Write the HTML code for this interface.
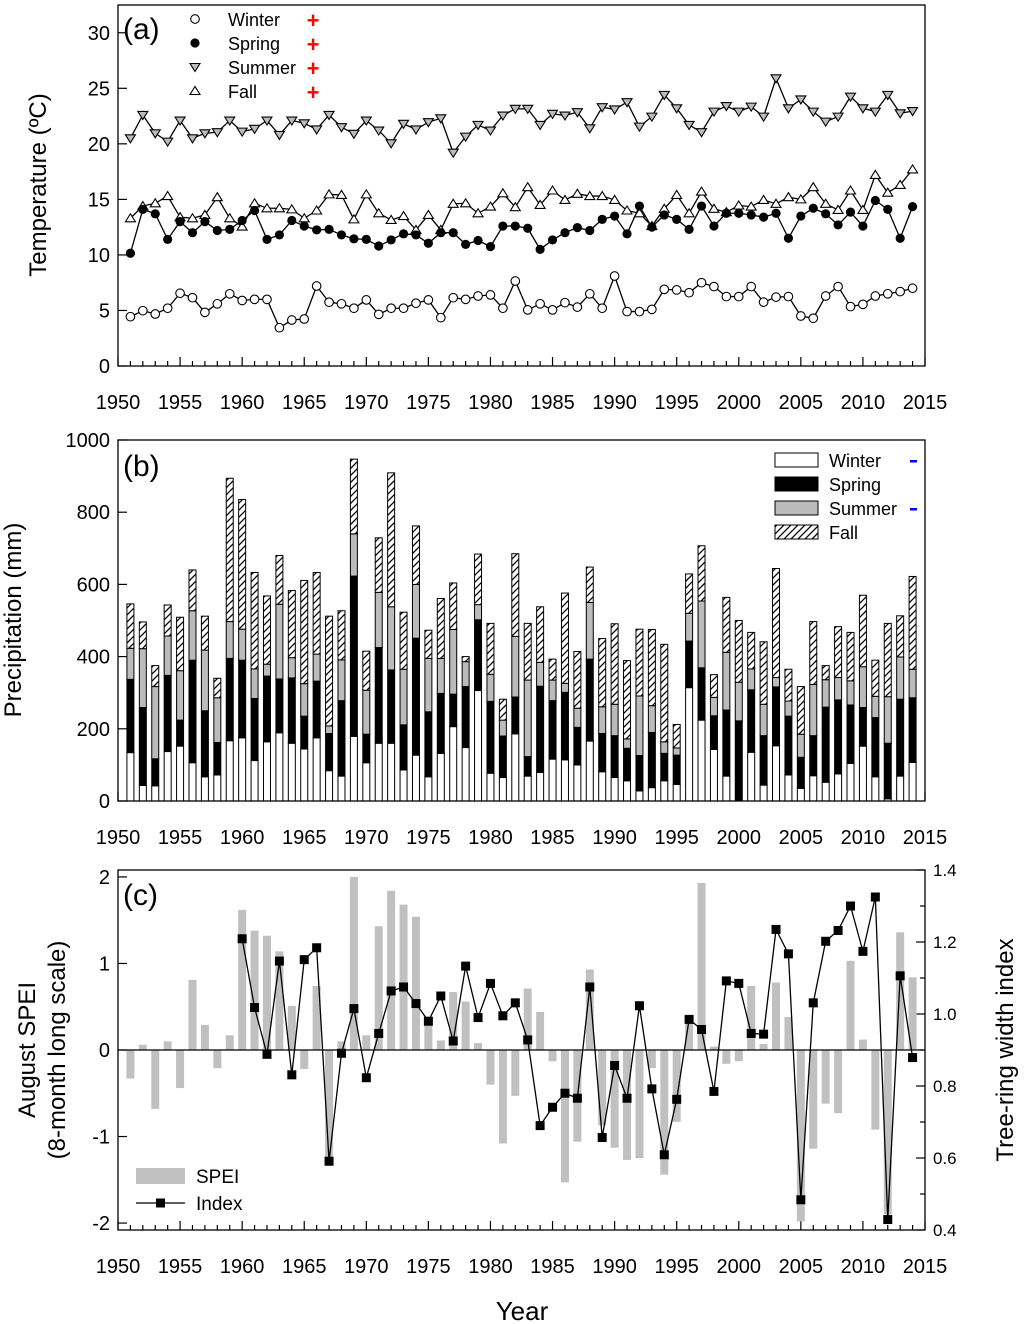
<!DOCTYPE html>
<html><head><meta charset="utf-8">
<style>
html,body{margin:0;padding:0;background:#fff;}
svg{display:block;font-family:"Liberation Sans",Arial,sans-serif;}
</style></head>
<body>
<svg id="chart" width="1024" height="1324" viewBox="0 0 1024 1324" xmlns="http://www.w3.org/2000/svg">
<defs>
<pattern id="hatch" patternUnits="userSpaceOnUse" width="7" height="7">
<rect width="7" height="7" fill="#fff"/>
<path d="M-1,8 L8,-1 M-4,4 L4,-4 M3,11 L11,3" stroke="#000" stroke-width="1.3"/>
</pattern>
</defs>
</svg>
<script>
const years = [];
for (let y = 1951; y <= 2014; y++) years.push(y);
const xTickLabels = ['1950','1955','1960','1965','1970','1975','1980','1985','1990','1995','2000','2005','2010','2015'];
const tempTickLabels = ['0','5','10','15','20','25','30'];
const precTickLabels = ['0','200','400','600','800','1000'];
const speiTickLabels = ['-2','-1','0','1','2'];
const idxTickLabels = ['0.4','0.6','0.8','1.0','1.2','1.4'];

const tempWinter = [4.44,4.98,4.68,5.2,6.55,6.15,4.83,5.6,6.5,5.9,6.0,6.0,3.45,4.14,4.23,7.2,5.74,5.6,5.2,5.95,4.65,5.2,5.2,5.65,5.95,4.35,6.15,6.0,6.3,6.4,5.2,7.65,5.05,5.6,5.05,5.7,5.3,6.5,5.2,8.1,4.9,4.9,5.1,6.9,6.85,6.6,7.5,7.15,6.25,6.25,7.15,5.75,6.2,6.25,4.5,4.3,6.3,7.15,5.35,5.55,6.3,6.5,6.7,7.0];
const tempSpring = [10.15,14.1,13.7,11.4,13.0,12.0,13.0,12.2,12.3,13.1,14.0,11.4,11.8,13.1,12.6,12.25,12.3,11.8,11.45,11.4,10.8,11.35,11.9,11.8,11.05,12.0,12.0,10.95,11.3,10.75,12.6,12.6,12.4,10.5,11.35,12.0,12.46,12.2,13.2,13.5,11.9,14.4,12.5,13.6,13.2,12.3,14.4,12.6,13.75,13.75,13.6,13.4,13.75,11.5,13.5,14.2,13.7,12.7,13.85,12.6,14.9,14.1,11.5,14.35];
const tempSummer = [20.5,22.6,20.95,20.2,22.1,20.5,20.95,21.05,22.1,21.1,21.35,22.1,20.8,22.1,21.85,21.3,22.6,21.5,20.9,22.1,21.2,20.05,21.8,21.3,21.95,22.3,19.2,20.65,21.7,21.2,22.55,23.15,23.15,21.7,22.7,22.55,22.85,21.4,23.3,23.1,23.75,21.55,22.45,24.4,23.2,21.7,21.05,22.9,23.4,22.9,23.35,22.45,25.9,23.2,24.0,22.9,22.0,22.45,24.25,23.2,22.9,24.4,22.75,22.95];
const tempFall = [13.3,14.4,14.65,15.3,13.4,13.3,13.6,15.2,13.3,12.55,14.65,14.2,14.2,14.1,13.3,14.0,15.45,15.4,13.2,15.45,13.75,13.15,13.5,12.25,13.6,12.25,14.6,14.65,13.75,14.35,15.55,14.3,16.1,14.5,15.8,14.95,15.5,15.3,15.3,14.95,14.0,13.75,12.6,14.15,15.4,13.75,15.7,14.15,13.85,14.45,14.35,14.95,14.6,15.2,15.0,16.1,14.6,14.05,15.8,14.05,17.2,15.6,16.3,17.7];

const precWinter = [134,43,42,137,152,106,67,72,167,175,112,164,189,160,144,175,84,69,179,106,160,160,86,127,67,132,206,148,306,77,65,186,69,79,116,114,100,166,81,65,56,28,37,56,46,314,224,143,69,0,135,44,153,72,35,70,52,75,104,152,67,6,69,107];
const precSpring = [203,216,75,211,72,284,183,90,228,215,172,182,149,181,91,157,103,209,444,79,265,203,125,324,180,166,90,169,196,199,115,102,54,239,162,187,104,227,106,116,90,98,153,76,81,129,145,93,183,222,173,137,163,163,86,111,208,205,162,107,164,154,213,179];
const precSummer = [86,163,200,109,137,137,168,124,102,86,82,33,207,56,90,75,21,113,117,122,153,175,154,149,148,97,179,69,42,75,44,168,212,66,57,25,53,157,74,87,26,165,74,32,20,77,185,51,160,107,58,87,26,42,64,142,76,62,67,113,59,129,117,79];
const precFall = [123,74,58,86,148,113,94,54,397,359,267,189,135,186,286,226,304,136,207,108,151,371,158,162,78,166,129,14,140,141,58,229,157,154,58,250,157,98,189,223,217,185,211,270,65,109,153,63,152,171,101,173,302,88,132,174,39,141,134,198,100,203,114,257];

const speiValues = [-0.33,0.06,-0.68,0.10,-0.44,0.81,0.29,-0.21,0.17,1.62,1.38,1.32,1.14,0.51,-0.22,0.74,-1.25,0.10,2.0,0.17,1.43,1.84,1.68,1.54,0.33,0.11,0.67,0.56,0.08,-0.40,-1.08,-0.53,0.71,0.44,-0.13,-1.53,-1.06,0.93,-0.87,-1.13,-1.27,-1.25,-0.21,-1.44,-0.83,0.33,1.93,0.04,-0.16,-0.13,0.74,0.07,0.78,0.38,-1.98,-1.14,-0.62,-0.73,1.03,0.12,-0.92,-1.9,1.36,0.84];
const indexYears = [];
for (let y = 1960; y <= 2014; y++) indexYears.push(y);
const indexValues = [1.209,1.018,0.888,1.147,0.831,1.151,1.184,0.591,0.891,1.015,0.823,0.946,1.064,1.075,1.029,0.980,1.050,0.925,1.133,0.990,1.085,0.995,1.031,0.928,0.690,0.741,0.780,0.766,1.075,0.657,0.857,0.766,1.023,0.792,0.609,0.763,0.985,0.957,0.785,1.092,1.085,0.946,0.944,1.235,1.167,0.484,1.031,1.202,1.232,1.300,1.174,1.325,0.429,1.106,0.879];

const NS = 'http://www.w3.org/2000/svg';
const svg = document.getElementById('chart');
function el(tag, attrs, parent) {
  const e = document.createElementNS(NS, tag);
  for (const k in attrs) e.setAttribute(k, attrs[k]);
  (parent || svg).appendChild(e);
  return e;
}
function txt(s, attrs, parent) { const t = el('text', attrs, parent); t.textContent = s; return t; }

const X0 = 118, X1 = 925;
const xs = y => X0 + (y - 1950) * (X1 - X0) / 65;
const A = {top: 5, bot: 366, min: 0, max: 32.5};
const B = {top: 440, bot: 801, min: 0, max: 1000};
const C = {top: 870, bot: 1230, min: -2.08, max: 2.08, rmin: 0.4, rmax: 1.4};
const ys = (P, v) => P.bot - (v - P.min) / (P.max - P.min) * (P.bot - P.top);
const yr = v => C.bot - (v - C.rmin) / (C.rmax - C.rmin) * (C.bot - C.top);

function xAxis(P, name) {
  const g = el('g', {});
  
  
  for (let y = 1950; y <= 2015; y++) {
    const major = y % 5 === 0;
    el('line', {x1: xs(y), x2: xs(y), y1: P.bot, y2: P.bot - (major ? 9 : 5), stroke: '#000', 'stroke-width': 1.2}, g);
  }
  xTickLabels.forEach(l => {
    const t = txt(l, {x: xs(+l), y: P.bot + 43, 'font-size': 20, 'text-anchor': 'middle'}, g);
    
    
  });
}
function frame(P, name) {
  const r = el('rect', {x: X0, y: P.top, width: X1 - X0, height: P.bot - P.top, fill: 'none', stroke: '#000', 'stroke-width': 1.3});
  
  
}
function yTicks(P, labels, name) {
  const g = el('g', {});
  
  
  labels.forEach(l => {
    const y = ys(P, +l);
    el('line', {x1: X0, x2: X0 + 9, y1: y, y2: y, stroke: '#000', 'stroke-width': 1.2}, g);
    txt(l, {x: X0 - 8, y: y + 7, 'font-size': 20, 'text-anchor': 'end'}, g);
  });
}

// ---------- Panel A ----------
const gA = el('g', {});


yTicks(A, tempTickLabels, 'temperature-y-axis');
xAxis(A, 'temperature-x-axis');
function marker(kind, x, y, g) {
  if (kind === 'circle-open') return el('circle', {cx: x, cy: y, r: 4.3, fill: '#fff', stroke: '#000', 'stroke-width': 1.1}, g);
  if (kind === 'circle-fill') return el('circle', {cx: x, cy: y, r: 4.6, fill: '#000'}, g);
  if (kind === 'tri-down') return el('path', {d: `M${x-5},${y-3.5} L${x+5},${y-3.5} L${x},${y+4.5} Z`, fill: '#bbb', stroke: '#000', 'stroke-width': 1.1}, g);
  if (kind === 'tri-up') return el('path', {d: `M${x-5},${y+3.5} L${x+5},${y+3.5} L${x},${y-4.5} Z`, fill: '#fff', stroke: '#000', 'stroke-width': 1.1}, g);
}
function series(vals, kind, name) {
  const g = el('g', {}, gA);
  
  
  el('polyline', {points: vals.map((v, i) => xs(years[i]) + ',' + ys(A, v)).join(' '), fill: 'none', stroke: '#000', 'stroke-width': 1.3}, g);
  vals.forEach((v, i) => {
    const m = marker(kind, xs(years[i]), ys(A, v), g);
    
    
  });
}
series(tempSummer, 'tri-down', 'summer-temp-series');
series(tempFall, 'tri-up', 'fall-temp-series');
series(tempSpring, 'circle-fill', 'spring-temp-series');
series(tempWinter, 'circle-open', 'winter-temp-series');
frame(A, 'temperature-plot-frame');
const legA = [['circle-open','Winter'],['circle-fill','Spring'],['tri-down','Summer'],['tri-up','Fall']];
legA.forEach((d, i) => {
  const g = el('g', {});
  
  
  const y = 20 + i * 24;
  marker(d[0], 195, y - 1, g);
  txt(d[1], {x: 228, y: y + 6, 'font-size': 18}, g);
  txt('+', {x: 313, y: y + 8, 'font-size': 22, fill: '#f00', 'text-anchor': 'middle', 'font-weight': 'bold'}, g);
});
const la = txt('(a)', {x: 123, y: 39, 'font-size': 30});


const yta = txt('Temperature (ºC)', {x: 0, y: 0, 'font-size': 24, 'text-anchor': 'middle', transform: 'translate(46,185) rotate(-90)'});



// ---------- Panel B ----------
yTicks(B, precTickLabels, 'precipitation-y-axis');
xAxis(B, 'precipitation-x-axis');
const bw = 7;
years.forEach((yv, i) => {
  const g = el('g', {});
  
  
  const segs = [[precWinter[i], '#fff'], [precSpring[i], '#000'], [precSummer[i], '#bbb'], [precFall[i], 'url(#hatch)']];
  let base = 0;
  segs.forEach(s => {
    const y1 = ys(B, base), y2 = ys(B, base + s[0]);
    el('rect', {x: xs(yv) - bw / 2, y: y2, width: bw, height: Math.max(0, y1 - y2), fill: s[1], stroke: '#000', 'stroke-width': 1}, g);
    base += s[0];
  });
});
frame(B, 'precipitation-plot-frame');
const legB = [['#fff','Winter',true],['#000','Spring',false],['#bbb','Summer',true],['url(#hatch)','Fall',false]];
legB.forEach((d, i) => {
  const g = el('g', {});
  
  
  const y = 453 + i * 24;
  el('rect', {x: 775, y: y, width: 43, height: 14, fill: d[0], stroke: '#000', 'stroke-width': 1}, g);
  txt(d[1], {x: 829, y: y + 14, 'font-size': 18}, g);
  if (d[2]) el('rect', {x: 910, y: y + 7, width: 7, height: 2.5, fill: '#00f'}, g);
});
const lb = txt('(b)', {x: 123, y: 476, 'font-size': 30});


const ytb = txt('Precipitation (mm)', {x: 0, y: 0, 'font-size': 24, 'text-anchor': 'middle', transform: 'translate(21,620) rotate(-90)'});



// ---------- Panel C ----------
xAxis(C, 'spei-x-axis');
const gL = el('g', {});


speiTickLabels.forEach(l => {
  const y = ys(C, +l);
  el('line', {x1: X0, x2: X0 + 9, y1: y, y2: y, stroke: '#000', 'stroke-width': 1.2}, gL);
  txt(l, {x: X0 - 8, y: y + 7, 'font-size': 20, 'text-anchor': 'end'}, gL);
});
const gR = el('g', {});


for (let k = 0; k <= 10; k++) {
  const v = 0.4 + k * 0.1, y = yr(v);
  el('line', {x1: X1, x2: X1 - (k % 2 ? 5 : 9), y1: y, y2: y, stroke: '#000', 'stroke-width': 1.2}, gR);
}
idxTickLabels.forEach(l => txt(l, {x: X1 + 8, y: yr(+l) + 6, 'font-size': 17}, gR));
speiValues.forEach((v, i) => {
  const y0 = ys(C, 0), y1 = ys(C, v);
  const r = el('rect', {x: xs(years[i]) - 4, y: Math.min(y0, y1), width: 8, height: Math.abs(y1 - y0), fill: '#c0c0c0'});
  
  
});
el('line', {x1: X0, x2: X1, y1: ys(C, 0), y2: ys(C, 0), stroke: '#000', 'stroke-width': 1.3});
const gI = el('g', {});


el('polyline', {points: indexValues.map((v, i) => xs(indexYears[i]) + ',' + yr(v)).join(' '), fill: 'none', stroke: '#000', 'stroke-width': 1.3}, gI);
indexValues.forEach((v, i) => {
  const m = el('rect', {x: xs(indexYears[i]) - 4.5, y: yr(v) - 4.5, width: 9, height: 9, fill: '#000'}, gI);
  
  
});
frame(C, 'spei-plot-frame');
const gLC = el('g', {});


el('rect', {x: 136, y: 1168, width: 49, height: 16, fill: '#c0c0c0'}, gLC);
txt('SPEI', {x: 196, y: 1183, 'font-size': 19}, gLC);
el('line', {x1: 136, x2: 185, y1: 1203, y2: 1203, stroke: '#000', 'stroke-width': 1.3}, gLC);
el('rect', {x: 156, y: 1198.5, width: 9, height: 9, fill: '#000'}, gLC);
txt('Index', {x: 196, y: 1210, 'font-size': 19}, gLC);
const lc = txt('(c)', {x: 123, y: 905, 'font-size': 30});


const ytc = txt('August SPEI', {x: 0, y: 0, 'font-size': 24, 'text-anchor': 'middle', transform: 'translate(35,1050) rotate(-90)'});


const ytc2 = txt('(8-month long scale)', {x: 0, y: 0, 'font-size': 24, 'text-anchor': 'middle', transform: 'translate(65,1050) rotate(-90)'});


const ytr = txt('Tree-ring width index', {x: 0, y: 0, 'font-size': 24, 'text-anchor': 'middle', transform: 'translate(1013,1050) rotate(-90)'});


const xt = txt('Year', {x: 522, y: 1320, 'font-size': 26, 'text-anchor': 'middle'});


</script>
</body></html>
